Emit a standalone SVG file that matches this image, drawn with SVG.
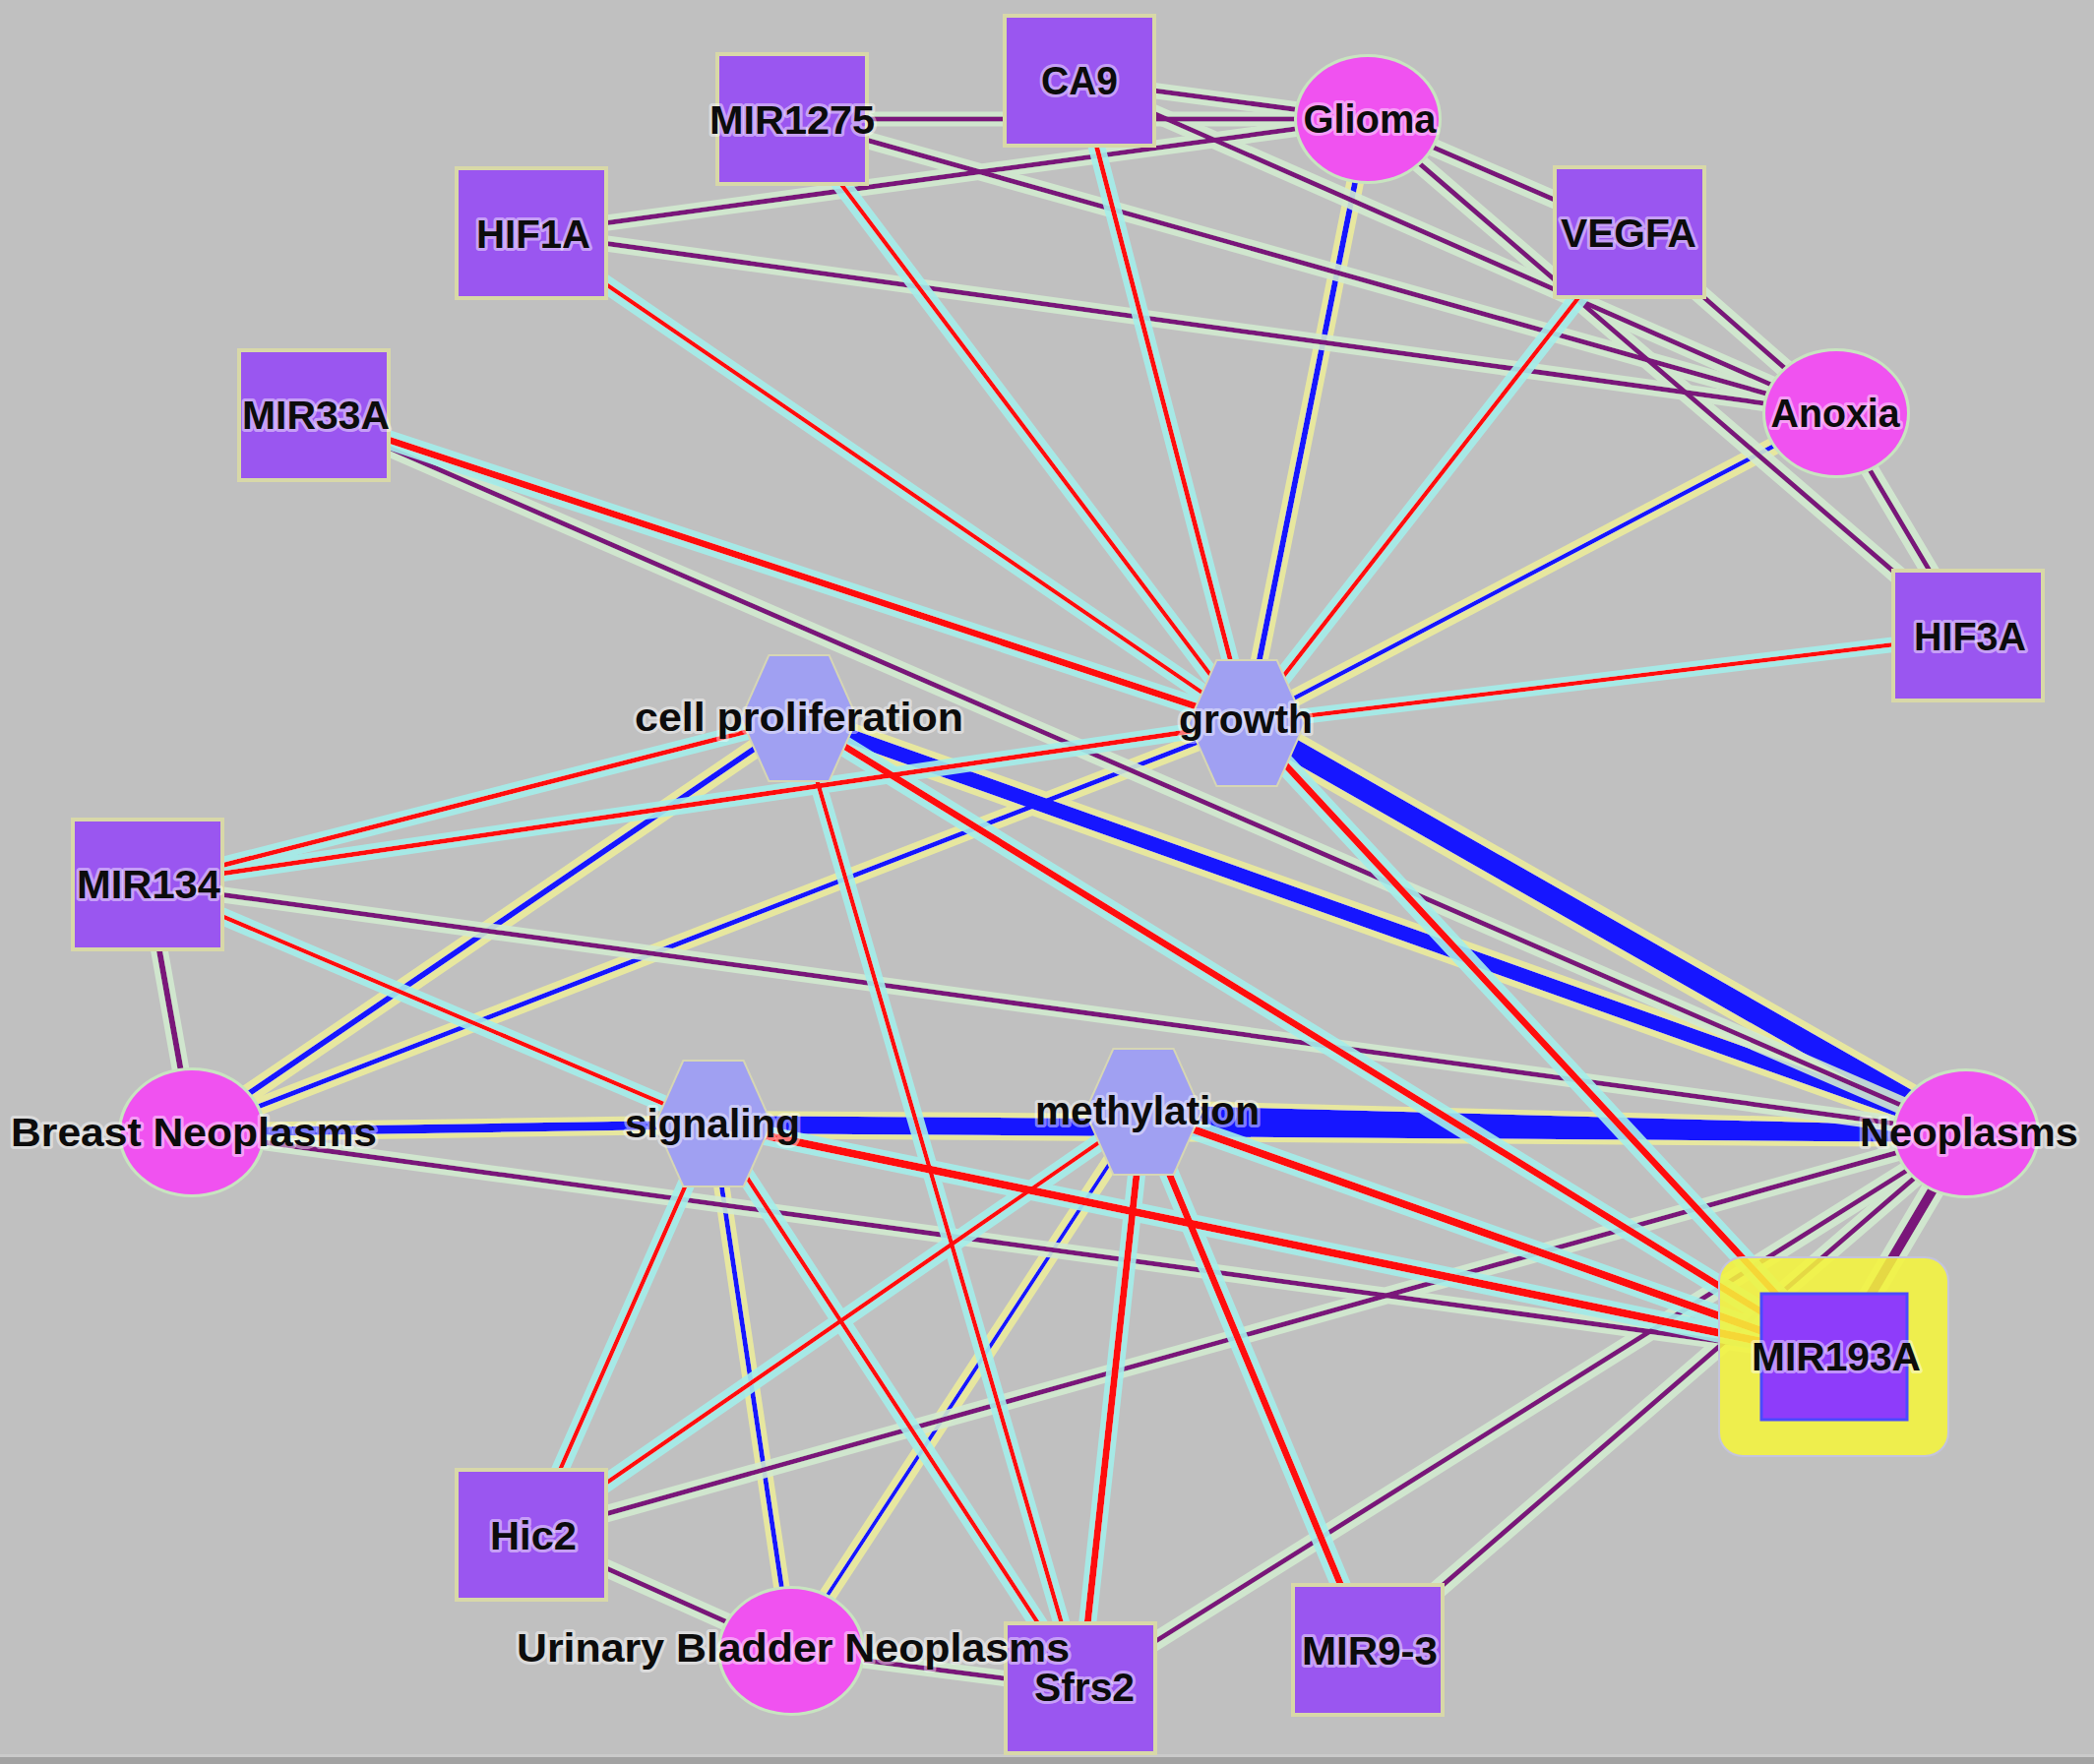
<svg xmlns="http://www.w3.org/2000/svg" width="2128" height="1793" viewBox="0 0 2128 1793">
<defs>
<style>
.sq{fill:#9a56f0;stroke:#d8d8a8;stroke-width:8;paint-order:stroke}
.el{fill:#f052f0;stroke:#c8e4c0;stroke-width:6;paint-order:stroke}
.hx{fill:#a0a0f2;stroke:#d6d6b4;stroke-width:4;paint-order:stroke}
.lbl{font-family:"Liberation Sans",Arial,sans-serif;font-weight:bold;font-size:40px;fill:#0c0c0c;text-anchor:middle;stroke:#ffffff;stroke-opacity:0.45;stroke-width:6;stroke-linejoin:round;paint-order:stroke}
.p line{stroke:#7a187a;stroke-width:5;stroke-linecap:round}
.r line{stroke:#ff1010;stroke-width:5;stroke-linecap:round}
.b line{stroke:#1414ff;stroke-width:5;stroke-linecap:round}
</style>
<filter id="hR" filterUnits="userSpaceOnUse" x="0" y="0" width="2128" height="1793">
<feMorphology in="SourceAlpha" operator="dilate" radius="5" result="d"/>
<feFlood flood-color="#a4eeea" flood-opacity="0.9"/>
<feComposite in2="d" operator="in" result="h"/>
<feMerge><feMergeNode in="h"/><feMergeNode in="SourceGraphic"/></feMerge>
</filter>
<filter id="hB" filterUnits="userSpaceOnUse" x="0" y="0" width="2128" height="1793">
<feMorphology in="SourceAlpha" operator="dilate" radius="5" result="d"/>
<feFlood flood-color="#ecec9c" flood-opacity="0.9"/>
<feComposite in2="d" operator="in" result="h"/>
<feMerge><feMergeNode in="h"/><feMergeNode in="SourceGraphic"/></feMerge>
</filter>
<filter id="hP" filterUnits="userSpaceOnUse" x="0" y="0" width="2128" height="1793">
<feMorphology in="SourceAlpha" operator="dilate" radius="5" result="d"/>
<feFlood flood-color="#d2ead0" flood-opacity="0.9"/>
<feComposite in2="d" operator="in" result="h"/>
<feMerge><feMergeNode in="h"/><feMergeNode in="SourceGraphic"/></feMerge>
</filter>
</defs>
<rect x="0" y="0" width="2128" height="1793" fill="#c0c0c0"/>
<rect x="0" y="1783" width="2128" height="3" fill="#cacaca"/>
<rect x="0" y="1786" width="2128" height="7" fill="#a2a2a2"/>

<g id="connectors">
<g class="b" filter="url(#hB)">
<line x1="1390" y1="121" x2="1267" y2="735" style="stroke-width:6"/>
<line x1="1866" y1="420" x2="1267" y2="735" style="stroke-width:4.5"/>
<line x1="195" y1="1151" x2="812" y2="730" style="stroke-width:6"/>
<line x1="195" y1="1151" x2="1267" y2="735"/>
<line x1="195" y1="1151" x2="724" y2="1143" style="stroke-width:9"/>
<line x1="812" y1="730" x2="1998" y2="1152" style="stroke-width:15"/>
<line x1="1267" y1="735" x2="1998" y2="1152" style="stroke-width:22"/>
<line x1="724" y1="1143" x2="1998" y2="1152" style="stroke-width:18"/>
<line x1="1162" y1="1130" x2="1998" y2="1152" style="stroke-width:14"/>
<line x1="724" y1="1143" x2="804" y2="1678"/>
<line x1="1162" y1="1130" x2="804" y2="1678" style="stroke-width:4"/>
</g>
<g class="p" filter="url(#hP)">
<line x1="1097" y1="82" x2="1390" y2="121"/>
<line x1="805" y1="121" x2="1390" y2="121"/>
<line x1="1097" y1="82" x2="1866" y2="420"/>
<line x1="805" y1="121" x2="1866" y2="420"/>
<line x1="540" y1="237" x2="1390" y2="121"/>
<line x1="540" y1="237" x2="1866" y2="420"/>
<line x1="1390" y1="121" x2="1656" y2="236"/>
<line x1="1390" y1="121" x2="2000" y2="646"/>
<line x1="1656" y1="236" x2="1866" y2="420"/>
<line x1="1866" y1="420" x2="2000" y2="646"/>
<line x1="319" y1="422" x2="1998" y2="1152"/>
<line x1="150" y1="899" x2="1998" y2="1152"/>
<line x1="150" y1="899" x2="195" y2="1151" style="stroke-width:6"/>
<line x1="195" y1="1151" x2="1864" y2="1379"/>
<line x1="540" y1="1560" x2="1998" y2="1152"/>
<line x1="540" y1="1560" x2="804" y2="1678"/>
<line x1="804" y1="1678" x2="1098" y2="1716"/>
<line x1="1098" y1="1716" x2="1998" y2="1152"/>
<line x1="1390" y1="1677" x2="1998" y2="1152"/>
<line x1="1864" y1="1379" x2="1998" y2="1152" style="stroke-width:10"/>
</g>
<g class="r" filter="url(#hR)">
<line x1="805" y1="121" x2="1267" y2="735" style="stroke-width:4.5"/>
<line x1="1097" y1="82" x2="1267" y2="735"/>
<line x1="540" y1="237" x2="1267" y2="735" style="stroke-width:4.5"/>
<line x1="319" y1="422" x2="1267" y2="735" style="stroke-width:7"/>
<line x1="1656" y1="236" x2="1267" y2="735" style="stroke-width:4.5"/>
<line x1="2000" y1="646" x2="1267" y2="735" style="stroke-width:4.5"/>
<line x1="150" y1="899" x2="812" y2="730"/>
<line x1="150" y1="899" x2="1267" y2="735"/>
<line x1="150" y1="899" x2="724" y2="1143" style="stroke-width:4.5"/>
<line x1="812" y1="730" x2="1864" y2="1379" style="stroke-width:7"/>
<line x1="1267" y1="735" x2="1864" y2="1379" style="stroke-width:7"/>
<line x1="812" y1="730" x2="1098" y2="1716" style="stroke-width:4.5"/>
<line x1="724" y1="1143" x2="1864" y2="1379" style="stroke-width:8"/>
<line x1="1162" y1="1130" x2="1864" y2="1379" style="stroke-width:8"/>
<line x1="724" y1="1143" x2="540" y2="1560" style="stroke-width:4.5"/>
<line x1="724" y1="1143" x2="1098" y2="1716" style="stroke-width:4.5"/>
<line x1="1162" y1="1130" x2="540" y2="1560" style="stroke-width:4.5"/>
<line x1="1162" y1="1130" x2="1098" y2="1716" style="stroke-width:7"/>
<line x1="1162" y1="1130" x2="1390" y2="1677" style="stroke-width:7"/>
</g>
</g>

<g id="node-CA9"><rect class="sq" x="1023" y="18" width="148" height="128"/><text class="lbl" x="1097" y="96" textLength="78" lengthAdjust="spacingAndGlyphs">CA9</text></g>
<g id="node-MIR1275"><rect class="sq" x="731" y="57" width="148" height="128"/><text class="lbl" x="805" y="136" textLength="168" lengthAdjust="spacingAndGlyphs">MIR1275</text></g>
<g id="node-HIF1A"><rect class="sq" x="466" y="173" width="148" height="128"/><text class="lbl" x="542" y="252" textLength="116" lengthAdjust="spacingAndGlyphs">HIF1A</text></g>
<g id="node-MIR33A"><rect class="sq" x="245" y="358" width="148" height="128"/><text class="lbl" x="321" y="436" textLength="150" lengthAdjust="spacingAndGlyphs">MIR33A</text></g>
<g id="node-VEGFA"><rect class="sq" x="1582" y="172" width="148" height="128"/><text class="lbl" x="1655" y="251" textLength="138" lengthAdjust="spacingAndGlyphs">VEGFA</text></g>
<g id="node-HIF3A"><rect class="sq" x="1926" y="582" width="148" height="128"/><text class="lbl" x="2002" y="661" textLength="114" lengthAdjust="spacingAndGlyphs">HIF3A</text></g>
<g id="node-Glioma"><ellipse class="el" cx="1390" cy="121" rx="72" ry="63"/><text class="lbl" x="1392" y="135" textLength="135" lengthAdjust="spacingAndGlyphs">Glioma</text></g>
<g id="node-Anoxia"><ellipse class="el" cx="1866" cy="420" rx="72" ry="63"/><text class="lbl" x="1865" y="434" textLength="131" lengthAdjust="spacingAndGlyphs">Anoxia</text></g>
<g id="node-cell-proliferation"><polygon class="hx" points="754,730 782,667 842,667 870,730 842,793 782,793"/><text class="lbl" x="812" y="743" textLength="334" lengthAdjust="spacingAndGlyphs">cell proliferation</text></g>
<g id="node-growth"><polygon class="hx" points="1209,735 1237,672 1297,672 1325,735 1297,798 1237,798"/><text class="lbl" x="1266" y="745" textLength="136" lengthAdjust="spacingAndGlyphs">growth</text></g>
<g id="node-MIR134"><rect class="sq" x="76" y="835" width="148" height="128"/><text class="lbl" x="151" y="913" textLength="146" lengthAdjust="spacingAndGlyphs">MIR134</text></g>
<g id="node-Breast-Neoplasms"><ellipse class="el" cx="195" cy="1151" rx="72" ry="63"/><text class="lbl" x="197" y="1165" textLength="372" lengthAdjust="spacingAndGlyphs">Breast Neoplasms</text></g>
<g id="node-signaling"><polygon class="hx" points="667,1142 695,1079 755,1079 783,1142 755,1205 695,1205"/><text class="lbl" x="724" y="1156" textLength="178" lengthAdjust="spacingAndGlyphs">signaling</text></g>
<g id="node-methylation"><polygon class="hx" points="1104,1130 1132,1067 1192,1067 1220,1130 1192,1193 1132,1193"/><text class="lbl" x="1166" y="1143" textLength="228" lengthAdjust="spacingAndGlyphs">methylation</text></g>
<g id="node-Neoplasms"><ellipse class="el" cx="1998" cy="1152" rx="72" ry="63"/><text class="lbl" x="2001" y="1165" textLength="222" lengthAdjust="spacingAndGlyphs">Neoplasms</text></g>
<g id="node-MIR193A"><rect x="1747" y="1278" width="233" height="202" rx="24" fill="#f4f43c" fill-opacity="0.88" stroke="#c4c4dc" stroke-width="2"/><rect x="1790" y="1315" width="148" height="128" fill="#8e3cfa" stroke="#4a4aff" stroke-width="3"/><text class="lbl" x="1866" y="1393" textLength="172" lengthAdjust="spacingAndGlyphs">MIR193A</text></g>
<g id="node-Hic2"><rect class="sq" x="466" y="1496" width="148" height="128"/><text class="lbl" x="542" y="1575" textLength="88" lengthAdjust="spacingAndGlyphs">Hic2</text></g>
<g id="node-MIR9-3"><rect class="sq" x="1316" y="1613" width="148" height="128"/><text class="lbl" x="1392" y="1692" textLength="138" lengthAdjust="spacingAndGlyphs">MIR9-3</text></g>
<g id="node-Sfrs2"><rect class="sq" x="1024" y="1652" width="148" height="128"/><text class="lbl" x="1102" y="1729" textLength="102" lengthAdjust="spacingAndGlyphs">Sfrs2</text></g>
<g id="node-Urinary-Bladder-Neoplasms"><ellipse class="el" cx="804" cy="1678" rx="72" ry="63"/><text class="lbl" x="806" y="1689" textLength="562" lengthAdjust="spacingAndGlyphs">Urinary Bladder Neoplasms</text></g>
</svg>
